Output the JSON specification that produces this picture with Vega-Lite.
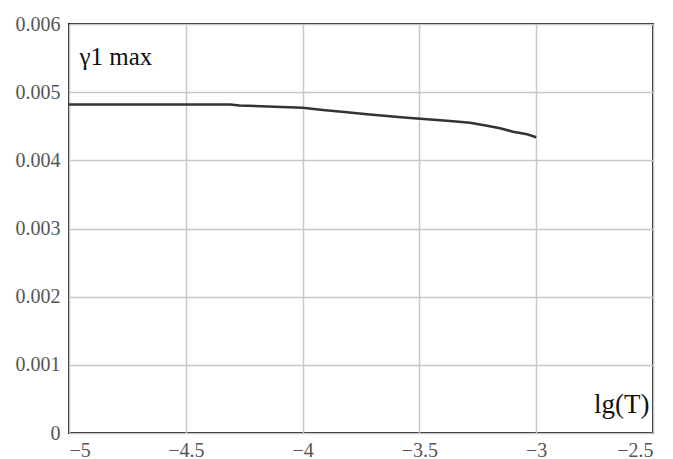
{
  "$schema": "https://vega.github.io/schema/vega-lite/v6.json",
  "width": 584,
  "height": 409,
  "autosize": "none",
  "padding": {"left": 69, "top": 24, "right": 20, "bottom": 26},
  "background": "white",
  "config": {
    "view": {"stroke": "#1a1a1a", "strokeWidth": 2},
    "axis": {
      "grid": true,
      "gridColor": "#c8c8c8",
      "gridWidth": 1.5,
      "domain": false,
      "ticks": false,
      "labelFont": "Liberation Serif",
      "labelFontSize": 20,
      "labelColor": "#555555",
      "title": null
    }
  },
  "datasets": {
    "curve": [
      {"lgT": -5.0, "g": 0.004819},
      {"lgT": -4.31, "g": 0.004819},
      {"lgT": -4.27, "g": 0.004804},
      {"lgT": -4.0, "g": 0.004772},
      {"lgT": -3.913, "g": 0.004738},
      {"lgT": -3.81, "g": 0.004705},
      {"lgT": -3.724, "g": 0.004675},
      {"lgT": -3.639, "g": 0.00465},
      {"lgT": -3.553, "g": 0.004626},
      {"lgT": -3.467, "g": 0.004602},
      {"lgT": -3.369, "g": 0.004577},
      {"lgT": -3.283, "g": 0.004552},
      {"lgT": -3.21, "g": 0.004508},
      {"lgT": -3.155, "g": 0.00447},
      {"lgT": -3.099, "g": 0.00442},
      {"lgT": -3.039, "g": 0.004382},
      {"lgT": -3.0, "g": 0.004338}
    ],
    "ylab": [{"lgT": -4.955, "g": 0.0054, "t": "γ1 max"}],
    "xlab": [{"lgT": -2.515, "g": 0.00030, "t": "lg(T)"}]
  },
  "layer": [
    {
      "data": {"name": "curve"},
      "mark": {"type": "line", "color": "#333333", "strokeWidth": 2.5},
      "encoding": {
        "x": {
          "field": "lgT", "type": "quantitative",
          "scale": {"domain": [-5, -2.5], "nice": false, "zero": false},
          "axis": {"values": [-5, -4.5, -4, -3.5, -3, -2.5], "format": "~g", "labelPadding": 7}
        },
        "y": {
          "field": "g", "type": "quantitative",
          "scale": {"domain": [0, 0.006], "nice": false},
          "axis": {
            "values": [0, 0.001, 0.002, 0.003, 0.004, 0.005, 0.006],
            "labelExpr": "datum.value == 0 ? '0' : format(datum.value, '.3f')",
            "labelPadding": 9
          }
        }
      }
    },
    {
      "data": {"name": "ylab"},
      "mark": {"type": "text", "font": "Liberation Serif", "fontSize": 25, "color": "#111111", "baseline": "alphabetic", "align": "left"},
      "encoding": {
        "x": {"field": "lgT", "type": "quantitative"},
        "y": {"field": "g", "type": "quantitative"},
        "text": {"field": "t"}
      }
    },
    {
      "data": {"name": "xlab"},
      "mark": {"type": "text", "font": "Liberation Serif", "fontSize": 27, "color": "#111111", "baseline": "alphabetic", "align": "right"},
      "encoding": {
        "x": {"field": "lgT", "type": "quantitative"},
        "y": {"field": "g", "type": "quantitative"},
        "text": {"field": "t"}
      }
    }
  ]
}
